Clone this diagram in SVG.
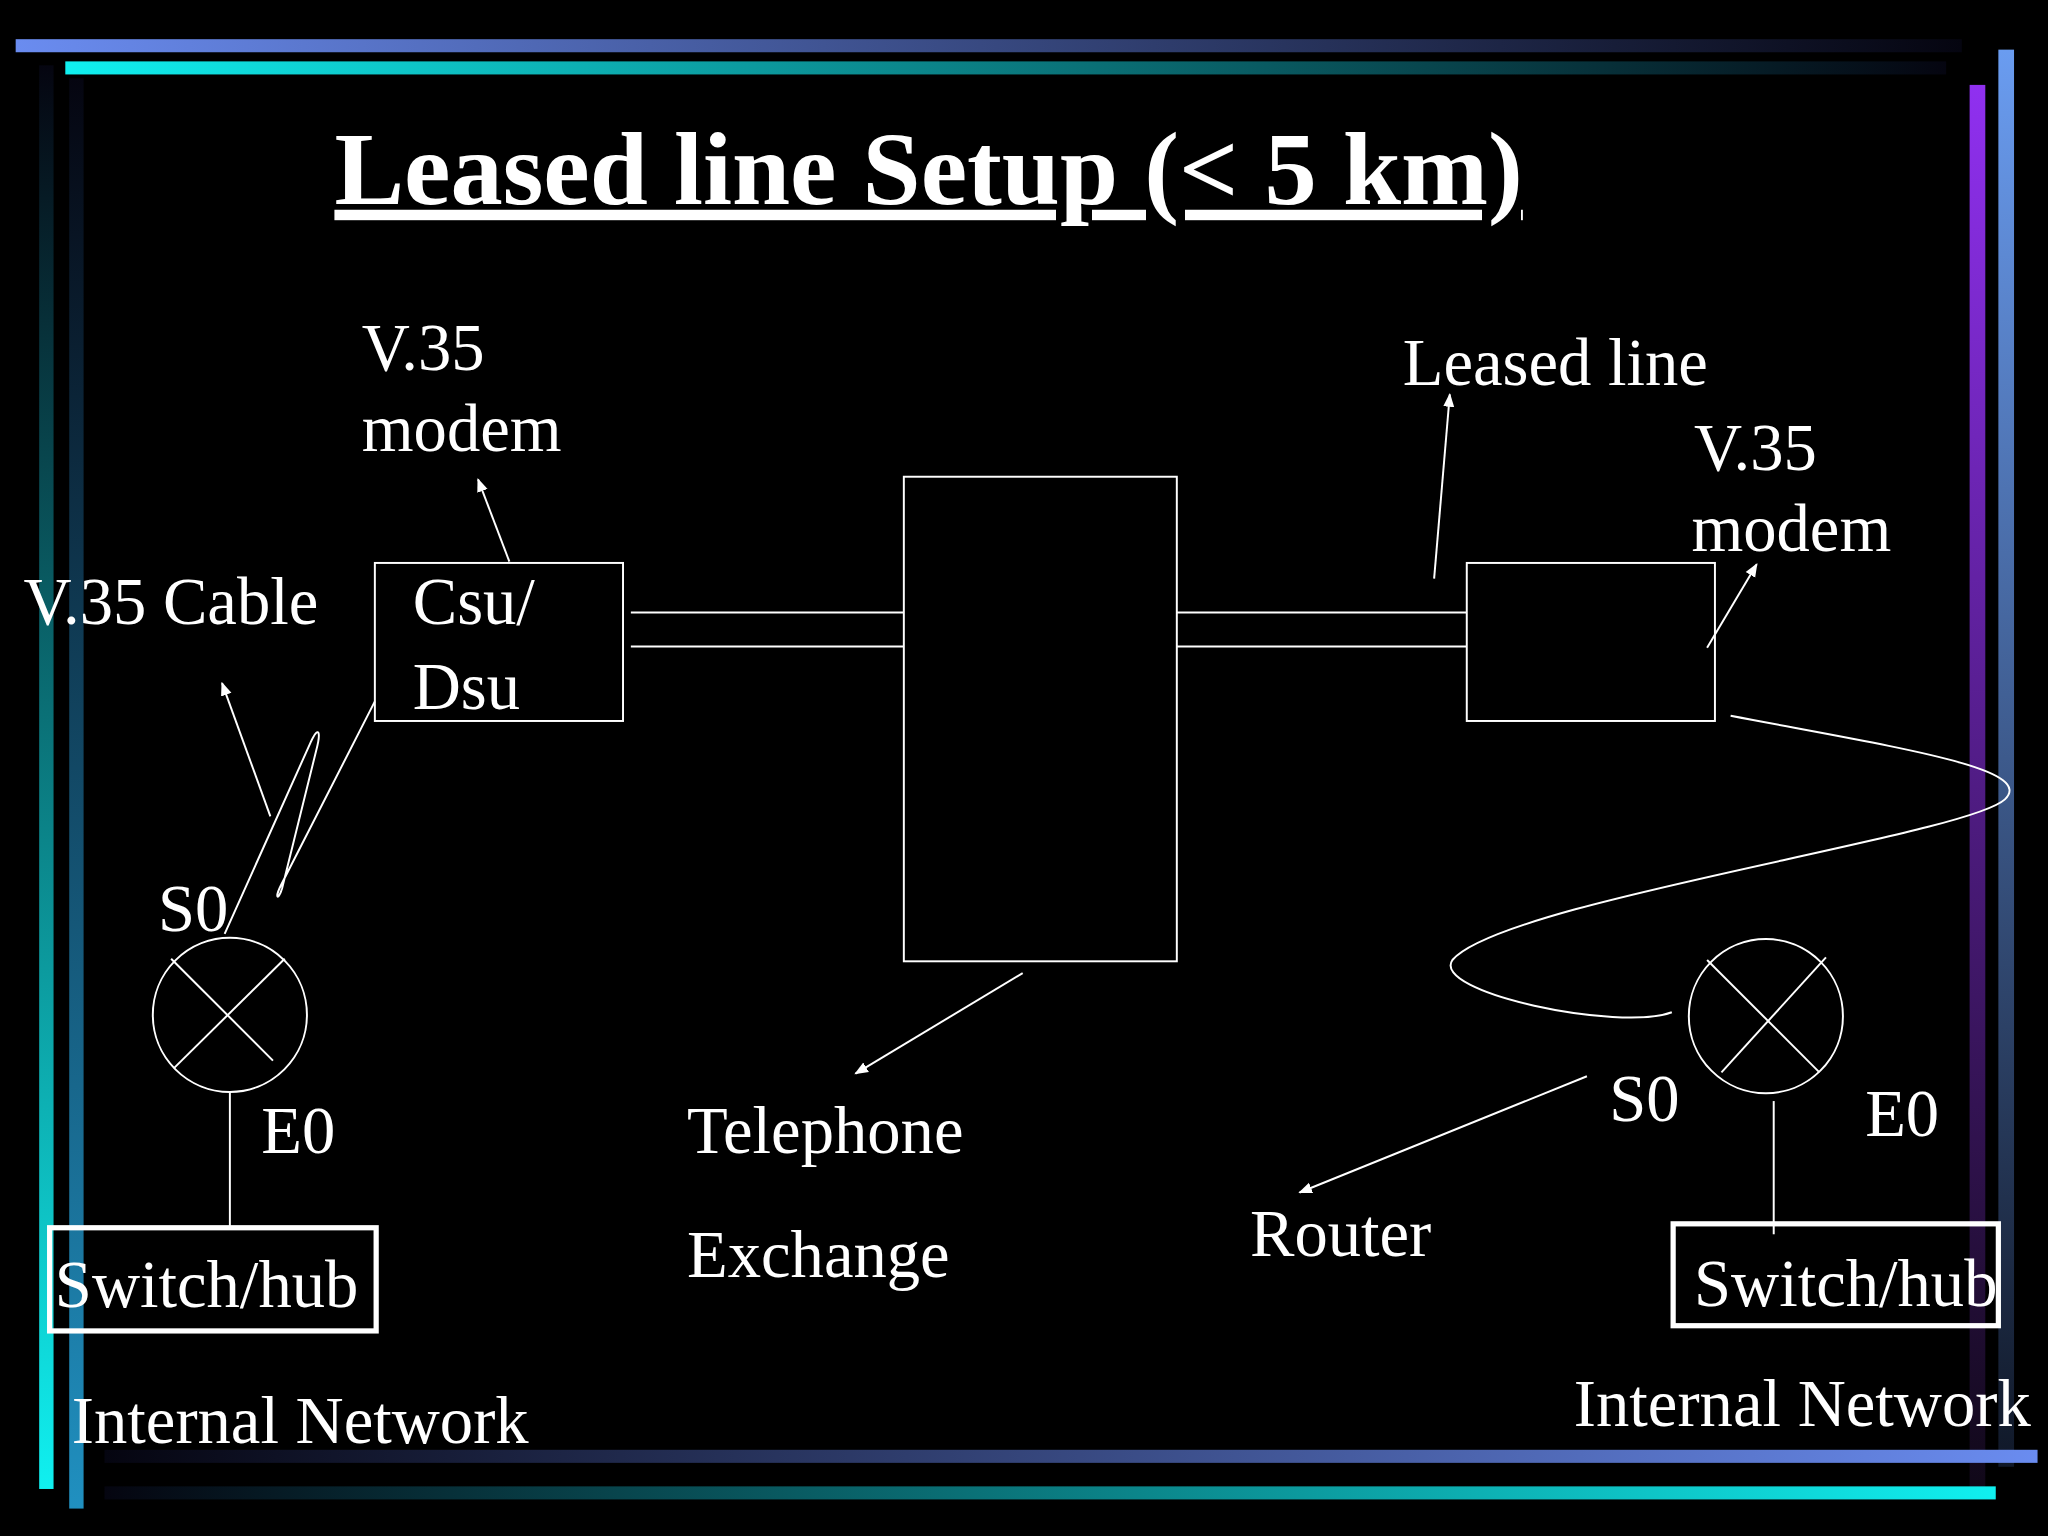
<svg xmlns="http://www.w3.org/2000/svg" width="2048" height="1536" viewBox="0 0 2048 1536">
<defs>
<linearGradient id="gTop" x1="0" x2="1" y1="0" y2="0"><stop offset="0" stop-color="#6a8cf0"/><stop offset="1" stop-color="#050510"/></linearGradient>
<linearGradient id="gTop2" x1="0" x2="1" y1="0" y2="0"><stop offset="0" stop-color="#10f0f0"/><stop offset="1" stop-color="#050510"/></linearGradient>
<linearGradient id="gLeft" x1="0" x2="0" y1="0" y2="1"><stop offset="0" stop-color="#050510"/><stop offset="1" stop-color="#10f0f0"/></linearGradient>
<linearGradient id="gLeft2" x1="0" x2="0" y1="0" y2="1"><stop offset="0" stop-color="#050510"/><stop offset="1" stop-color="#2090c0"/></linearGradient>
<linearGradient id="gRight" x1="0" x2="0" y1="0" y2="1"><stop offset="0" stop-color="#9030f0"/><stop offset="1" stop-color="#100818"/></linearGradient>
<linearGradient id="gRight2" x1="0" x2="0" y1="0" y2="1"><stop offset="0" stop-color="#6a9cf0"/><stop offset="1" stop-color="#101828"/></linearGradient>
<linearGradient id="gBot" x1="0" x2="1" y1="0" y2="0"><stop offset="0" stop-color="#050510"/><stop offset="1" stop-color="#6a8cf0"/></linearGradient>
<linearGradient id="gBot2" x1="0" x2="1" y1="0" y2="0"><stop offset="0" stop-color="#050510"/><stop offset="1" stop-color="#10f0f0"/></linearGradient>
<marker id="ah" viewBox="0 0 10 10" refX="9" refY="5" markerWidth="7" markerHeight="7" orient="auto-start-reverse"><path d="M0,1 L10,5 L0,9 z" fill="#fff"/></marker>
<style>
text{font-family:"Liberation Serif","Times New Roman",serif;fill:#fff;font-size:51px}
.t{font-size:80px;font-weight:bold;text-decoration:underline}
.s{stroke:#fff;stroke-width:1.5;fill:none}
.b{stroke:#fff;stroke-width:4;fill:none}
.a{stroke:#fff;stroke-width:1.5;fill:none;marker-end:url(#ah)}
</style>
</defs>
<rect width="2048" height="1536" fill="#000"/>
<g transform="scale(1.30612)">
<g id="frame">
<rect x="12" y="30" width="1490" height="10" fill="url(#gTop)"/>
<rect x="50" y="47" width="1440" height="10" fill="url(#gTop2)"/>
<rect x="30" y="50" width="11" height="1090" fill="url(#gLeft)"/>
<rect x="53" y="60" width="11" height="1095" fill="url(#gLeft2)"/>
<rect x="1508" y="65" width="12" height="1075" fill="url(#gRight)"/>
<rect x="1530" y="38" width="12" height="1085" fill="url(#gRight2)"/>
<rect x="80" y="1110" width="1480" height="10" fill="url(#gBot)"/>
<rect x="80" y="1138" width="1448" height="10" fill="url(#gBot2)"/>
</g>
<g id="title"><text class="t" x="711" y="156" text-anchor="middle">Leased line Setup (&lt; 5 km)</text></g>
<g id="connectors">
<line class="s" x1="483" y1="469" x2="692" y2="469"/><line class="s" x1="483" y1="495" x2="692" y2="495"/>
<line class="s" x1="901" y1="469" x2="1123" y2="469"/><line class="s" x1="901" y1="495" x2="1123" y2="495"/>
<path class="s" d="M172,715 L238,568 C244,555 246,560 242,575 L216,680 C213,690 210,688 215,678 L287,537"/>
<path class="s" d="M1325,548 C1450,572 1560,588 1535,612 C1505,640 1150,690 1112,735 C1095,760 1240,790 1280,775"/>
<line class="s" x1="176" y1="836" x2="176" y2="940"/>
<line class="s" x1="1358" y1="843" x2="1358" y2="945"/>
<line class="a" x1="390" y1="430" x2="366" y2="367"/>
<line class="a" x1="1098" y1="443" x2="1110" y2="302"/>
<line class="a" x1="1307" y1="496" x2="1345" y2="432"/>
<line class="a" x1="207" y1="625" x2="170" y2="523"/>
<line class="a" x1="783" y1="745" x2="655" y2="822"/>
<line class="a" x1="1215" y1="824" x2="995" y2="913"/>
</g>
<g id="csudsu"><rect class="s" x="287" y="431" width="190" height="121"/><text x="316" y="478">Csu/</text><text x="316" y="543">Dsu</text></g>
<g id="exchange"><rect class="s" x="692" y="365" width="209" height="371"/></g>
<g id="modemR"><rect class="s" x="1123" y="431" width="190" height="121"/></g>
<g id="routerL"><circle class="s" cx="176" cy="777" r="59"/><line class="s" x1="131" y1="734" x2="209" y2="812"/><line class="s" x1="218" y1="734" x2="133" y2="818"/></g>
<g id="routerR"><circle class="s" cx="1352" cy="778" r="59"/><line class="s" x1="1307" y1="735" x2="1393" y2="821"/><line class="s" x1="1398" y1="733" x2="1318" y2="821"/></g>
<g id="switchL"><rect class="b" x="38" y="940" width="250" height="79"/><text x="42" y="1001">Switch/hub</text></g>
<g id="switchR"><rect class="b" x="1281" y="937" width="249" height="78"/><text x="1297" y="1000">Switch/hub</text></g>
<g id="labels">
<text x="277" y="283">V.35</text><text x="277" y="345">modem</text>
<text x="18" y="478">V.35 Cable</text>
<text x="1074" y="295">Leased line</text>
<text x="1297" y="360">V.35</text><text x="1295" y="422">modem</text>
<text x="121" y="713">S0</text><text x="200" y="883">E0</text>
<text x="55" y="1105">Internal Network</text>
<text x="526" y="883">Telephone</text><text x="526" y="978">Exchange</text>
<text x="1232" y="858">S0</text><text x="1428" y="870">E0</text>
<text x="957" y="962">Router</text>
<text x="1205" y="1092">Internal Network</text>
</g>
</g>
</svg>
